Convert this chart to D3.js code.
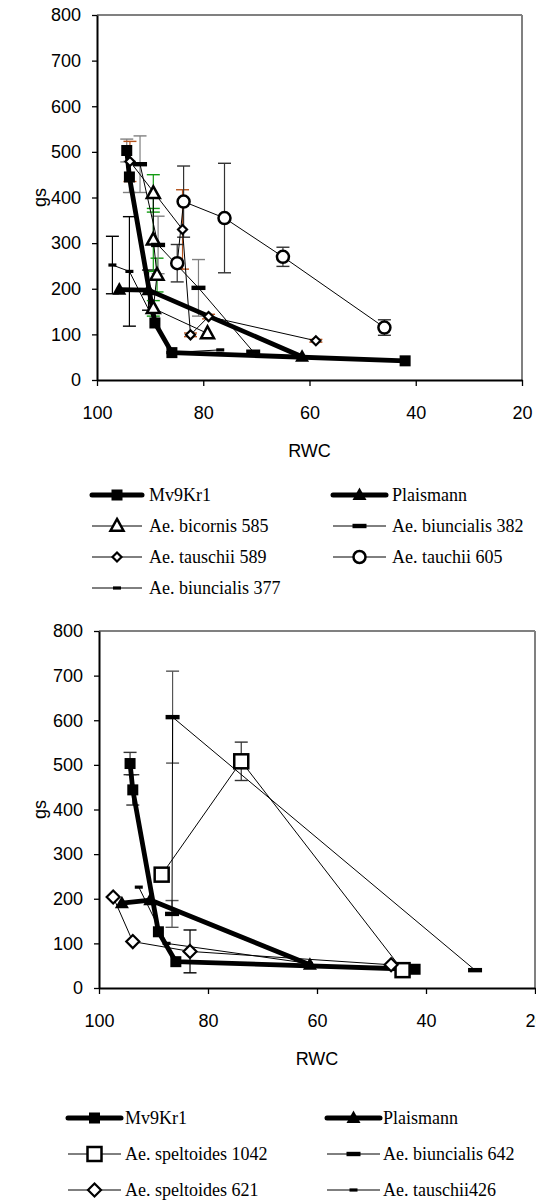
<!DOCTYPE html>
<html><head><meta charset="utf-8">
<script src="https://cdn.jsdelivr.net/npm/d3@7"></script>
<style>body{margin:0;background:#fff}svg{display:block}</style>
</head><body>
<script>
// ---------- DATA ----------
const xTicks = [100, 80, 60, 40, 20];
const yTicks = [0, 100, 200, 300, 400, 500, 600, 700, 800];
const xLabel = "RWC", yLabel = "gs";

// top chart
const topMv9Rwc = [94.4, 93.9, 89.1, 85.9, 42.0];
const topMv9Gs  = [503, 445, 125, 60, 42];
const topMv9Err = [25, 34, 0, 0, 0];
const topPlaisRwc = [95.8, 90.3, 61.4];
const topPlaisGs  = [198, 197, 51];
const topPlaisErr = [0, 44, 0];
const bic585Rwc = [89.4, 89.4, 88.7, 89.4, 79.2];
const bic585Gs  = [409, 307, 230, 157, 102];
const bic585Err = [41, 69, 37, 17, 0];
const biu382Rwc = [91.9, 88.5, 80.9, 70.6];
const biu382Gs  = [473, 296, 202, 62];
const biu382Err = [62, 63, 62, 0];
const tau589Rwc = [93.8, 83.9, 82.4, 79.0, 58.8];
const tau589Gs  = [479, 330, 99, 139, 86];
const tau589Err = [44, 87, 4, 5, 3];
const tau605Rwc = [84.9, 83.7, 76.0, 65.0, 45.9];
const tau605Gs  = [256, 391, 355, 270, 115];
const tau605Err = [41, 78, 120, 21, 17];
const biu377Rwc = [97.1, 93.9, 86.2, 76.8];
const biu377Gs  = [252, 238, 60, 66];
const biu377Err = [63, 120, 0, 0];

// bottom chart
const botMv9Rwc = [94.3, 93.8, 89.1, 85.9, 42.0];
const botMv9Gs  = [503, 444, 126, 59, 42];
const botMv9Err = [25, 34, 0, 0, 0];
const botPlaisRwc = [95.8, 90.6, 61.3];
const botPlaisGs  = [190, 197, 52];
const botPlaisErr = [0, 0, 0];
const spe1042Rwc = [88.5, 73.9, 44.3];
const spe1042Gs  = [254, 508, 40];
const spe1042Err = [0, 43, 0];
const biu642Rwc = [86.6, 86.5, 31.0];
const biu642Gs  = [166, 607, 40];
const biu642Err = [30, 103, 0];
const spe621Rwc = [97.4, 93.8, 83.3, 46.4];
const spe621Gs  = [204, 104, 82, 52];
const spe621Err = [0, 0, 48, 0];
const tau426Rwc = [92.7, 87.6, 61.5];
const tau426Gs  = [226, 100, 55];
const tau426Err = [0, 0, 0];

const topNames = ["Mv9Kr1", "Plaismann", "Ae. bicornis 585", "Ae. biuncialis 382", "Ae. tauschii 589", "Ae. tauchii 605", "Ae. biuncialis 377"];
const botNames = ["Mv9Kr1", "Plaismann", "Ae. speltoides 1042", "Ae. biuncialis 642", "Ae. speltoides 621", "Ae. tauschii426"];

// ---------- BUILD ----------
function mk(name, rwc, gs, err, marker, thick, errColor, msize) {
  return {name, marker, thick, errColor, msize,
    pts: rwc.map((r, i) => ({rwc: r, gs: gs[i], err: err[i]}))};
}
const BROWN = "#b4521c", GREEN = "#139a13", GRAY = "#808080";
const topSeries = [
  mk(topNames[0], topMv9Rwc, topMv9Gs, topMv9Err, "fsquare", true, GRAY, 11),
  mk(topNames[1], topPlaisRwc, topPlaisGs, topPlaisErr, "ftri", true, "#000", 14),
  mk(topNames[2], bic585Rwc, bic585Gs, bic585Err, "otri", false, GREEN, 13),
  mk(topNames[3], biu382Rwc, biu382Gs, biu382Err, "thickdash", false, GRAY, 14),
  mk(topNames[4], tau589Rwc, tau589Gs, tau589Err, "odiamond", false, BROWN, 9),
  mk(topNames[5], tau605Rwc, tau605Gs, tau605Err, "ocircle", false, "#333", 12),
  mk(topNames[6], biu377Rwc, biu377Gs, biu377Err, "smalldash", false, "#000", 8)
];
const botSeries = [
  mk(botNames[0], botMv9Rwc, botMv9Gs, botMv9Err, "fsquare", true, "#333", 11),
  mk(botNames[1], botPlaisRwc, botPlaisGs, botPlaisErr, "ftri", true, "#000", 14),
  mk(botNames[2], spe1042Rwc, spe1042Gs, spe1042Err, "osquare", false, "#333", 14),
  mk(botNames[3], biu642Rwc, biu642Gs, biu642Err, "thickdash", false, "#555", 14),
  mk(botNames[4], spe621Rwc, spe621Gs, spe621Err, "odiamond", false, "#000", 13),
  mk(botNames[5], tau426Rwc, tau426Gs, tau426Err, "smalldash", false, "#000", 8)
];

const svg = d3.select("body").append("svg").attr("width", 536).attr("height", 1200);
const SANS = "'Liberation Sans', Arial, sans-serif";
const SERIF = "'Liberation Serif', 'Times New Roman', serif";

function drawMarker(g, type, cx, cy, s) {
  if (type === "fsquare") {
    g.append("rect").attr("x", cx - s/2).attr("y", cy - s/2).attr("width", s).attr("height", s).attr("fill", "#000");
  } else if (type === "osquare") {
    g.append("rect").attr("x", cx - s/2).attr("y", cy - s/2).attr("width", s).attr("height", s)
      .attr("fill", "#fff").attr("stroke", "#000").attr("stroke-width", 2.5);
  } else if (type === "ftri" || type === "otri") {
    const h = s * 0.9;
    const p = `M${cx},${cy - h*0.6}L${cx + s/2},${cy + h*0.4}L${cx - s/2},${cy + h*0.4}Z`;
    const e = g.append("path").attr("d", p);
    if (type === "ftri") e.attr("fill", "#000");
    else e.attr("fill", "#fff").attr("stroke", "#000").attr("stroke-width", 2.5).attr("stroke-linejoin", "miter");
  } else if (type === "ocircle") {
    g.append("circle").attr("cx", cx).attr("cy", cy).attr("r", s/2)
      .attr("fill", "#fff").attr("stroke", "#000").attr("stroke-width", 2.5);
  } else if (type === "odiamond") {
    const r = s/2;
    g.append("path").attr("d", `M${cx},${cy - r}L${cx + r},${cy}L${cx},${cy + r}L${cx - r},${cy}Z`)
      .attr("fill", "#fff").attr("stroke", "#000").attr("stroke-width", 2.2);
  } else if (type === "thickdash") {
    g.append("rect").attr("x", cx - s/2).attr("y", cy - 2.2).attr("width", s).attr("height", 4.4).attr("fill", "#000");
  } else if (type === "smalldash") {
    g.append("rect").attr("x", cx - s/2).attr("y", cy - 1.6).attr("width", s).attr("height", 3.2).attr("fill", "#000");
  }
}

function drawChart(cfg, series) {
  const g = svg.append("g");
  const x = d3.scaleLinear().domain([100, 20]).range([cfg.left, cfg.right]);
  const y = d3.scaleLinear().domain([0, 800]).range([cfg.bottom, cfg.top]);

  g.append("line").attr("x1", cfg.left).attr("x2", cfg.right).attr("y1", cfg.top).attr("y2", cfg.top)
    .attr("stroke", GRAY).attr("stroke-width", 2);
  g.append("line").attr("x1", cfg.right).attr("x2", cfg.right).attr("y1", cfg.top).attr("y2", cfg.bottom)
    .attr("stroke", GRAY).attr("stroke-width", 2);

  const ya = g.append("g").attr("transform", `translate(${cfg.left},0)`)
    .call(d3.axisLeft(y).tickValues(yTicks).tickSize(5).tickSizeOuter(0).tickPadding(11));
  const xa = g.append("g").attr("transform", `translate(0,${cfg.bottom})`)
    .call(d3.axisBottom(x).tickValues(xTicks).tickSize(6).tickSizeOuter(0).tickPadding(20));
  [ya, xa].forEach(a => {
    a.select(".domain").attr("stroke", "#000").attr("stroke-width", 2);
    a.selectAll(".tick line").attr("stroke", "#000").attr("stroke-width", 1.3);
    a.selectAll(".tick text").attr("font-family", SANS).attr("font-size", 18).attr("fill", "#000");
  });

  g.append("text").attr("x", (cfg.left + cfg.right) / 2).attr("y", cfg.bottom + 77)
    .attr("text-anchor", "middle").attr("font-family", SANS).attr("font-size", 18).text(xLabel);
  g.append("text").attr("transform", `translate(46,${(cfg.top + cfg.bottom) / 2}) rotate(-90)`)
    .attr("text-anchor", "middle").attr("font-family", SANS).attr("font-size", 18).text(yLabel);

  const line = d3.line().x(d => x(d.rwc)).y(d => y(d.gs));

  series.forEach(s => {
    s.pts.filter(p => p.err > 0).forEach(p => {
      const px = x(p.rwc), y1 = y(p.gs + p.err), y2 = y(p.gs - p.err);
      g.append("line").attr("x1", px).attr("x2", px).attr("y1", y1).attr("y2", y2)
        .attr("stroke", s.errColor).attr("stroke-width", 1.2);
      [y1, y2].forEach(yy => g.append("line").attr("x1", px - 6.5).attr("x2", px + 6.5)
        .attr("y1", yy).attr("y2", yy).attr("stroke", s.errColor).attr("stroke-width", 1.4));
    });
  });
  series.filter(s => !s.thick).forEach(s => {
    g.append("path").attr("d", line(s.pts)).attr("fill", "none").attr("stroke", "#000").attr("stroke-width", 1);
  });
  series.filter(s => s.thick).forEach(s => {
    g.append("path").attr("d", line(s.pts)).attr("fill", "none").attr("stroke", "#000")
      .attr("stroke-width", 4.8).attr("stroke-linejoin", "round");
  });
  series.forEach(s => s.pts.forEach(p => drawMarker(g, s.marker, x(p.rwc), y(p.gs), s.msize)));
}

function drawLegend(items, cols, rows) {
  const g = svg.append("g");
  items.forEach((s, i) => {
    const c = cols[i % 2], ry = rows[Math.floor(i / 2)];
    g.append("line").attr("x1", c.l1).attr("x2", c.l2).attr("y1", ry).attr("y2", ry)
      .attr("stroke", "#000").attr("stroke-width", s.thick ? 5 : 1).attr("stroke-linecap", s.thick ? "round" : "butt");
    drawMarker(g, s.marker, (c.l1 + c.l2) / 2, ry, s.msize);
    g.append("text").attr("x", c.t).attr("y", ry + 6).attr("font-family", SERIF).attr("font-size", 18)
      .attr("fill", "#000").text(s.name);
  });
}

drawChart({left: 97, right: 522, top: 15, bottom: 380}, topSeries);
drawChart({left: 99, right: 535, top: 631, bottom: 988}, botSeries);

drawLegend(topSeries, [{l1: 92, l2: 142, t: 149}, {l1: 333, l2: 386, t: 392}], [495, 526, 557, 588]);
drawLegend(botSeries, [{l1: 68, l2: 121, t: 125}, {l1: 327, l2: 380, t: 383}], [1118, 1154, 1190]);
</script>
</body></html>
